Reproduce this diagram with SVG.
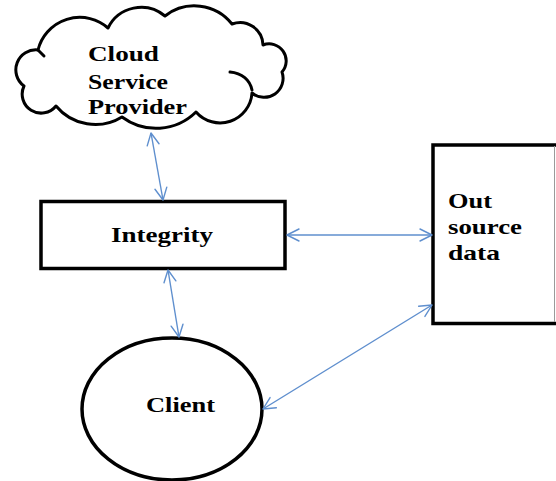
<svg xmlns="http://www.w3.org/2000/svg" width="556" height="481" viewBox="0 0 556 481">
  <style>
    .shape { fill: #ffffff; stroke: #000000; stroke-width: 3.5; stroke-linejoin: miter; }
    .cloud { fill: #ffffff; stroke: #000000; stroke-width: 3; stroke-linejoin: round; }
    .hook { fill: none; stroke: #000000; stroke-width: 3; stroke-linecap: round; }
    .label { font-family: "Liberation Serif", "Times New Roman", serif; font-weight: bold; font-size: 22px; fill: #000000; }
    .link { fill: none; stroke: #5f8fce; stroke-width: 1.4; marker-start: url(#chev); marker-end: url(#chev); }
  </style>
  <defs>
    <marker id="chev" viewBox="-14 -8 16 16" markerWidth="16" markerHeight="16" refX="0" refY="0" markerUnits="userSpaceOnUse" orient="auto-start-reverse">
      <path d="M-12,-6 L0,0 L-12,6" fill="none" stroke="#5f8fce" stroke-width="1.4" stroke-linecap="round" stroke-linejoin="round"/>
    </marker>
  </defs>

  <rect x="0" y="0" width="556" height="481" fill="#ffffff"/>

  <g id="cloud-provider">
    <path class="cloud" d="M24,86 A20,20 0 0 1 38,50 A43,43 0 0 1 108,28 A37,37 0 0 1 165,16 A48,48 0 0 1 232,24 A23,23 0 0 1 263,45 A17,17 0 0 1 282,72 A19,19 0 0 1 252,93 A32,32 0 0 1 196,112 A57,57 0 0 1 122,117 A51,51 0 0 1 56,106 A19,19 0 0 1 24,86 Z"/>
    <path class="hook" d="M230,72 C242,73 250,80 252,90"/>
    <path class="hook" d="M38,50 C40,52 42,54 44,56"/>
    <text class="label" x="88" y="61" textLength="71" lengthAdjust="spacingAndGlyphs">Cloud</text>
    <text class="label" x="88" y="88.5" textLength="80" lengthAdjust="spacingAndGlyphs">Service</text>
    <text class="label" x="88" y="114" textLength="99" lengthAdjust="spacingAndGlyphs">Provider</text>
  </g>

  <g id="integrity">
    <rect class="shape" x="41" y="201.5" width="244" height="67"/>
    <text class="label" x="111" y="242" textLength="102" lengthAdjust="spacingAndGlyphs">Integrity</text>
  </g>

  <g id="outsource-data">
    <rect x="433" y="145" width="123" height="178.5" fill="#ffffff"/>
    <path class="shape" d="M557,145 H433 V323.5 H557" fill="none"/>
    <line x1="554.5" y1="146" x2="554.5" y2="322" stroke="#9a9a9a" stroke-width="1"/>
    <text class="label" x="448" y="208" textLength="44" lengthAdjust="spacingAndGlyphs">Out</text>
    <text class="label" x="448" y="234" textLength="74" lengthAdjust="spacingAndGlyphs">source</text>
    <text class="label" x="448" y="260" textLength="52" lengthAdjust="spacingAndGlyphs">data</text>
  </g>

  <g id="client">
    <ellipse class="shape" cx="172" cy="409" rx="90" ry="71"/>
    <text class="label" x="146" y="412" textLength="69" lengthAdjust="spacingAndGlyphs">Client</text>
  </g>

  <g id="connectors">
    <path class="link" d="M151,133 L163,200"/>
    <path class="link" d="M168,270 L179,337"/>
    <path class="link" d="M287,235 L432,235"/>
    <path class="link" d="M263,409 L432,305"/>
  </g>
</svg>
